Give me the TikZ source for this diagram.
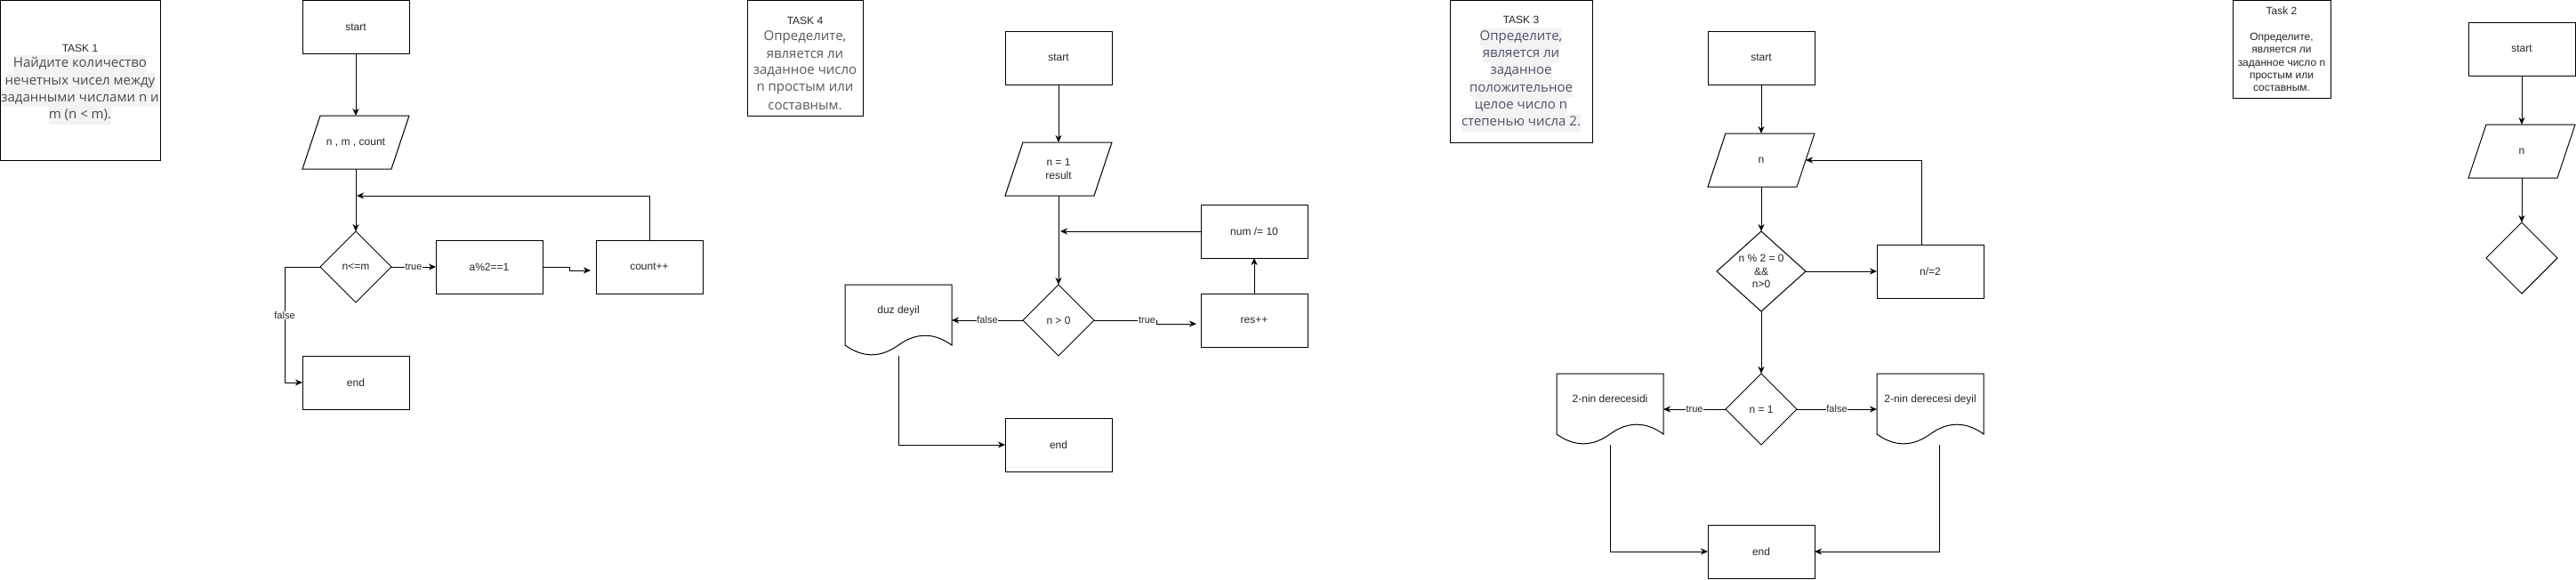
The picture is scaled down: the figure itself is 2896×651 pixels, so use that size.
\documentclass[tikz,border=0pt]{standalone}
\usepackage{fontspec}
\setmainfont{Liberation Sans}
\newfontfamily\ruf{Open Sans}
\usetikzlibrary{arrows.meta,calc}
\definecolor{hl}{HTML}{F3F3F4}
\definecolor{tone}{HTML}{4A4A4A}
\definecolor{tthree}{HTML}{4E5266}
\definecolor{tfour}{HTML}{595959}
\newcommand\drawpara[1]{\draw (#1.south west) -- ($(#1.south east)+(-20,0)$) -- (#1.north east) -- ($(#1.north west)+(20,0)$) -- cycle;}
\newcommand\drawdia[1]{\draw (#1.north) -- (#1.east) -- (#1.south) -- (#1.west) -- cycle;}
\newcommand\drawdoc[1]{\draw (#1.north west) -- (#1.north east) -- ($(#1.north east)+(0,68)$) .. controls ($(#1.north west)+(100,53.6)$) and ($(#1.north west)+(80,53.6)$) .. ($(#1.north west)+(60,68)$) .. controls ($(#1.north west)+(40,82.4)$) and ($(#1.north west)+(20,82.4)$) .. ($(#1.north west)+(0,68)$) -- cycle;}
\begin{document}
\begin{tikzpicture}[x=1pt,y=-1pt,line width=1pt,
  base/.style={inner sep=0pt,outer sep=0pt,font=\fontsize{12}{14.5}\selectfont,text=black!85,align=center},
  proc/.style={base,draw,minimum width=120pt,minimum height=60pt},
  ghost/.style={base,minimum width=120pt,minimum height=60pt},
  dia/.style={base,minimum width=80pt,minimum height=80pt},
  docbox/.style={base,minimum width=120pt,minimum height=80pt,text height=9pt,text depth=25pt},
  taskbox/.style={draw,inner sep=0pt,outer sep=0pt},
  flow/.style={-{Stealth[length=8pt,width=7pt,inset=2.5pt]}},
  lbl/.style={font=\fontsize{11}{13}\selectfont,fill=white,inner sep=0.6pt,text=black!85},
  ttl/.style={font=\fontsize{12}{14}\selectfont,inner sep=0pt,text=black!85},
  ruhl/.style={font=\ruf\fontsize{15}{19}\selectfont,inner sep=0pt,text height=13.5pt,text depth=5.8pt,fill=hl,text=#1},
  ruplain/.style={font=\ruf\fontsize{15}{19}\selectfont,inner sep=0pt,text=#1}
]
\fill[white] (0,0) rectangle (2896,651);
\useasboundingbox (0,0) rectangle (2896,651);

% ---------------- TASK 1 ----------------
\node[taskbox,minimum width=180pt,minimum height=180pt] (t1box) at (90.5,90.5) {};
\node[ttl] (t1t) at (90,54) {TASK 1};
\node[ruhl=tone] (t1l1) at (90,72) {Найдите количество};
\node[ruhl=tone] (t1l2) at (90,91.3) {нечетных чисел между};
\node[ruhl=tone] (t1l3) at (90,110.6) {заданными числами n и};
\node[ruhl=tone] (t1l4) at (90,129.9) {m (n < m).};

\node[proc] (t1start) at (400,30.5) {start};
\node[ghost] (t1in) at (400,160) {n , m , count};
\drawpara{t1in}
\node[dia] (t1d) at (400,300) {n<=m};
\drawdia{t1d}
\node[proc] (t1a) at (550,300) {a\%2==1};
\node[proc] (t1c) at (730,300) {count++};
\node[proc] (t1end) at (400,430) {end};
\coordinate (t1m) at (401,220);
\coordinate (t1j) at (664,304);
\draw[flow] (t1start.south) -- (t1in.north);
\draw[flow] (t1in.south) -- (t1d.north);
\draw[flow] (t1d.east) -- node[lbl]{true} (t1a.west);
\draw[flow] (t1a.east) -- ++(30,0) |- (t1j);
\draw[flow] (t1c.north) |- (t1m);
\draw[flow] (t1d.west) -- ++(-40,0) |- node[lbl,pos=0.21]{false} (t1end.west);

% ---------------- TASK 4 ----------------
\node[taskbox,minimum width=130pt,minimum height=130pt] (t4box) at (905,65.5) {};
\node[ttl] (t4t) at (905,23) {TASK 4};
\node[ruplain=tfour] (t4l1) at (905,42) {Определите,};
\node[ruplain=tfour] (t4l2) at (905,61.5) {является ли};
\node[ruplain=tfour] (t4l3) at (905,81) {заданное число};
\node[ruplain=tfour] (t4l4) at (905,100.5) {n простым или};
\node[ruplain=tfour] (t4l5) at (905,120) {составным.};

\node[proc] (t4start) at (1190,65) {start};
\node[ghost] (t4in) at (1190,190) {n = 1\\result};
\drawpara{t4in}
\node[dia] (t4d) at (1190,360) {n > 0};
\drawdia{t4d}
\node[proc] (t4num) at (1410,260) {num /= 10};
\node[proc] (t4res) at (1410,360) {res++};
\node[docbox] (t4doc) at (1010,360) {duz deyil};
\drawdoc{t4doc}
\node[proc] (t4end) at (1190,500) {end};
\coordinate (t4m) at (1192,260);
\coordinate (t4j) at (1345,364);
\draw[flow] (t4start.south) -- (t4in.north);
\draw[flow] (t4in.south) -- (t4d.north);
\draw[flow] (t4num.west) -- (t4m);
\draw[flow] (t4res.north) -- (t4num.south);
\draw[flow] (t4d.east) -- node[lbl,pos=0.85]{true} ++(70,0) |- (t4j);
\draw[flow] (t4d.west) -- node[lbl]{false} (t4doc.east);
\draw[flow] (t4doc.south) |- (t4end.west);

% ---------------- TASK 3 ----------------
\node[taskbox,minimum width=160pt,minimum height=160pt] (t3box) at (1710,80.5) {};
\node[ttl] (t3t) at (1710,22) {TASK 3};
\node[ruhl=tthree] (t3l1) at (1710,41.5) {Определите,};
\node[ruhl=tthree] (t3l2) at (1710,60.8) {является ли};
\node[ruhl=tthree] (t3l3) at (1710,80.1) {заданное};
\node[ruhl=tthree] (t3l4) at (1710,99.4) {положительное};
\node[ruhl=tthree] (t3l5) at (1710,118.7) {целое число n};
\node[ruhl=tthree] (t3l6) at (1710,138) {степенью числа 2.};

\node[proc] (t3start) at (1980,65) {start};
\node[ghost] (t3in) at (1980,180) {n};
\drawpara{t3in}
\node[dia,minimum width=100pt,minimum height=90pt] (t3d1) at (1980,305) {n \% 2 = 0\\\&\&\\n>0};
\drawdia{t3d1}
\node[proc] (t3n2) at (2170,305) {n/=2};
\node[dia] (t3d2) at (1980,460) {n = 1};
\drawdia{t3d2}
\node[docbox] (t3doc1) at (1810,460) {2-nin derecesidi};
\drawdoc{t3doc1}
\node[docbox] (t3doc2) at (2170,460) {2-nin derecesi deyil};
\drawdoc{t3doc2}
\node[proc] (t3end) at (1980,620) {end};
\coordinate (t3m) at ($(t3in.east)+(-10,0)$);
\draw[flow] (t3start.south) -- (t3in.north);
\draw[flow] (t3in.south) -- (t3d1.north);
\draw[flow] (t3d1.east) -- (t3n2.west);
\draw[flow] ($(t3n2.north)+(-10,0)$) |- (t3m);
\draw[flow] (t3d1.south) -- (t3d2.north);
\draw[flow] (t3d2.west) -- node[lbl]{true} (t3doc1.east);
\draw[flow] (t3d2.east) -- node[lbl]{false} (t3doc2.west);
\draw[flow] (t3doc1.south) |- (t3end.west);
\draw[flow] ($(t3doc2.south)+(10,0)$) |- (t3end.east);

% ---------------- TASK 2 ----------------
\node[taskbox,minimum width=110pt,minimum height=110pt] (t2box) at (2565,55.5) {};
\node[base,font=\fontsize{12}{14.3}\selectfont] (t2txt) at (2565,55.5) {Task 2\\\mbox{}\\Определите,\\является ли\\заданное число n\\простым или\\составным.};

\node[proc] (t2start) at (2835,55) {start};
\node[ghost] (t2in) at (2835,170) {n};
\drawpara{t2in}
\node[dia] (t2d) at (2835,290) {};
\drawdia{t2d}
\draw[flow] (t2start.south) -- (t2in.north);
\draw[flow] (t2in.south) -- (t2d.north);
\end{tikzpicture}
\end{document}
